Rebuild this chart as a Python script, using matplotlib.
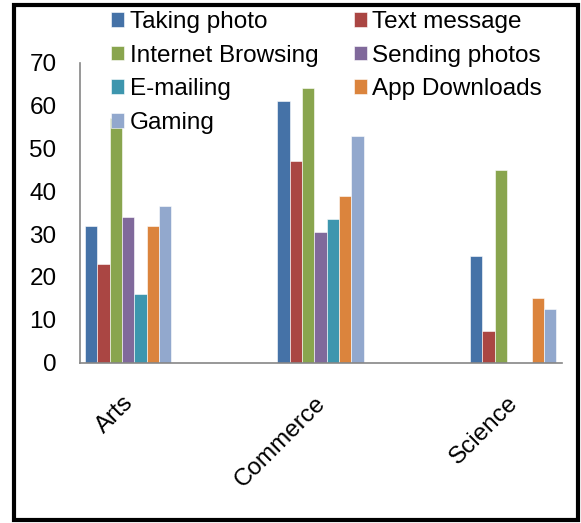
import matplotlib.pyplot as plt
import numpy as np
from matplotlib.patches import Rectangle

plt.rcParams['font.family'] = ['Liberation Sans', 'DejaVu Sans']

# data
streams = ['Arts', 'Commerce', 'Science']
series = ['Taking photo', 'Text message', 'Internet Browsing', 'Sending photos',
          'E-mailing', 'App Downloads', 'Gaming']
taking_photo = [32, 61, 25]
text_message = [23, 47, 7.5]
internet_browsing = [57, 64, 45]
sending_photos = [34, 30.5, 0]
e_mailing = [16, 33.5, 0]
app_downloads = [32, 39, 15]
gaming = [36.5, 53, 12.5]
values = [taking_photo, text_message, internet_browsing, sending_photos,
          e_mailing, app_downloads, gaming]
colors = ['#4572A7', '#AA4643', '#89A54E', '#80699B', '#3D96AE', '#DB843D', '#92A8CD']

fs = 17.5

fig = plt.figure(figsize=(5.81, 5.23), dpi=100)
ax = fig.add_axes([80/581, 1-362.7/523, (562-80)/581, 300/523])

x = np.arange(len(streams))
w = 0.064
bars = []
for i, (name, vals, c) in enumerate(zip(series, values, colors)):
    b = ax.bar(x + (i - 3) * w, vals, w, color=c, label=name,
               edgecolor='white', linewidth=0.4)
    bars.append(b)

ax.set_xlim(-0.25, 2.254)
ax.set_ylim(0, 70)
ax.set_yticks(range(0, 71, 10))
ax.tick_params(axis='y', length=0, pad=17, labelsize=fs)
ax.set_xticks(x + 0.05)
ax.set_xticklabels(streams, rotation=45, ha='right', va='top', fontsize=fs)
ax.tick_params(axis='x', length=0, pad=21)

for s in ['top', 'right']:
    ax.spines[s].set_visible(False)
for s in ['left', 'bottom']:
    ax.spines[s].set_color('#868686')
    ax.spines[s].set_linewidth(1.2)

# legend rows go across, so reorder for column filling
order = [0, 2, 4, 6, 1, 3, 5]
handles = [bars[i] for i in order]
labels = [series[i] for i in order]
fig.legend(handles, labels, ncol=2, loc='upper left',
           bbox_to_anchor=(111/581, 1-11/523), frameon=False, fontsize=fs,
           borderpad=0, borderaxespad=0, handlelength=0.55, handleheight=0.55,
           handletextpad=0.22, columnspacing=1.45, labelspacing=0.48)

# outer border
fig.patches.append(Rectangle((14/581, 3/523), 564/581, 515/523,
                             transform=fig.transFigure, fill=False,
                             edgecolor='black', linewidth=3))

fig.savefig('out.png', dpi=100)
